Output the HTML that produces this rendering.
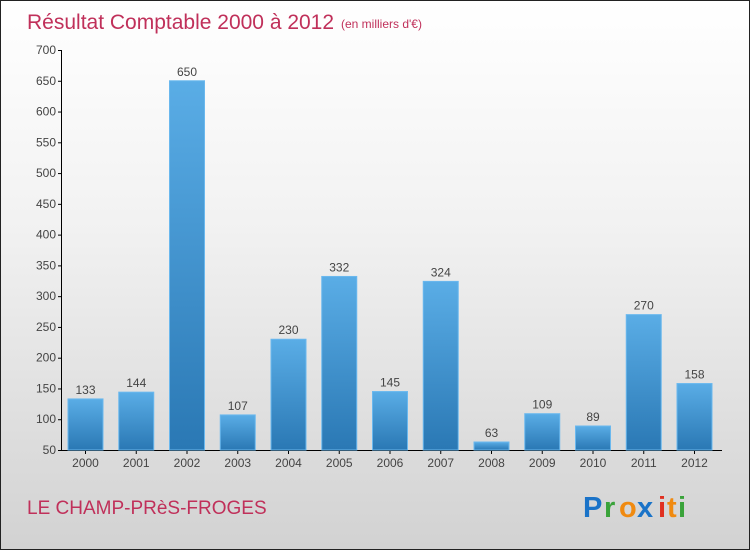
<!DOCTYPE html>
<html><head><meta charset="utf-8"><style>
body{margin:0;}
#wrap{width:748px;height:548px;border:1px solid #222;background:linear-gradient(#ffffff,#f2f2f2 40%,#d2d2d2);position:relative;font-family:"Liberation Sans",sans-serif;overflow:hidden}
</style></head><body>
<div id="wrap">
<svg id="chart" width="748" height="548">
<defs><linearGradient id="bg" x1="0" y1="0" x2="0" y2="1"><stop offset="0" stop-color="#5aade6"/><stop offset="1" stop-color="#2a78b4"/></linearGradient></defs>
<text x="26" y="28" font-size="21" fill="#c0305a">Résultat Comptable 2000 à 2012</text>
<text x="340" y="27" font-size="12" fill="#c0305a">(en milliers d'€)</text>
<text x="26" y="513" font-size="19" fill="#c0305a">LE CHAMP-PRèS-FROGES</text>
<g font-size="29" font-weight="bold">
<text x="582" y="516" fill="#1a73c8">P</text><text x="603" y="516" fill="#3aa33a">r</text><text x="618" y="516" fill="#f08a10">o</text><text x="636" y="516" fill="#1a73c8">x</text><text x="657" y="516" fill="#e03020">i</text><text x="666" y="516" fill="#f08a10">t</text><text x="677" y="516" fill="#3aa33a">i</text>
</g>
<g id="axes"></g><g id="bars"></g>
</svg>
</div>
<script>
const years=["2000","2001","2002","2003","2004","2005","2006","2007","2008","2009","2010","2011","2012"];
const values=[133,144,650,107,230,332,145,324,63,109,89,270,158];
const yTicks=[50,100,150,200,250,300,350,400,450,500,550,600,650,700];
const NS="http://www.w3.org/2000/svg";
const y=v=>449-(v-50)*400/650;
const x=i=>84.5+i*50.75;
function mk(t,a,p){const e=document.createElementNS(NS,t);for(const k in a)e.setAttribute(k,a[k]);p.appendChild(e);return e;}
const ax=document.getElementById('axes'),bs=document.getElementById('bars');
let l=mk('line',{x1:60.5,y1:49,x2:60.5,y2:449,stroke:'#000'},ax);


l=mk('line',{x1:60,y1:449.5,x2:721,y2:449.5,stroke:'#000'},ax);


yTicks.forEach(t=>{
 mk('line',{x1:57,x2:61,y1:y(t)+.5,y2:y(t)+.5,stroke:'#000'},ax);
 const tx=mk('text',{x:55,y:y(t)+4,'text-anchor':'end','font-size':12,fill:'#444'},ax);
 tx.textContent=t;
 
 
});
years.forEach((yr,i)=>{
 const v=values[i];
 const r=mk('rect',{x:x(i)-17.5,y:y(v),width:35,height:449-y(v),fill:'url(#bg)',stroke:'#6ab8ee','stroke-width':1},bs);
 
 
 const vt=mk('text',{x:x(i),y:y(v)-5,'text-anchor':'middle','font-size':12,fill:'#444'},bs);
 vt.textContent=v;
 
 
 mk('line',{x1:x(i),x2:x(i),y1:449,y2:453,stroke:'#000'},ax);
 const xt=mk('text',{x:x(i),y:466,'text-anchor':'middle','font-size':12,fill:'#444'},ax);
 xt.textContent=yr;
 
 
});
</script>
</body></html>
